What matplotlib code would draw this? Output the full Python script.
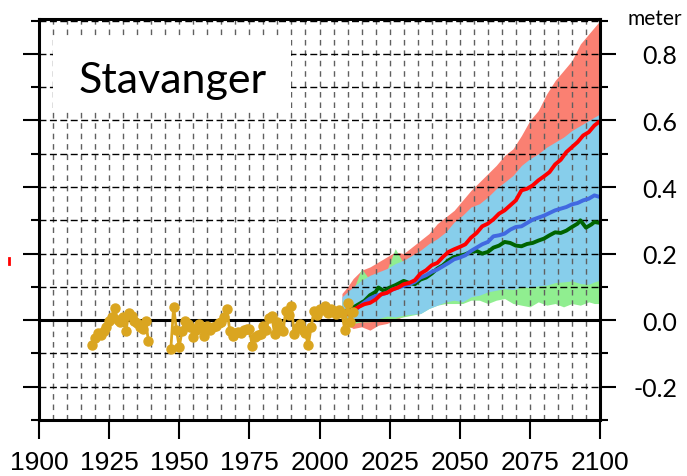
import numpy as np
import matplotlib
matplotlib.use("Agg")
import matplotlib.pyplot as plt
from matplotlib.ticker import MultipleLocator
from matplotlib.patches import Rectangle
from matplotlib.lines import Line2D
from matplotlib import font_manager

# === fonts ===
font_names = {f.name for f in font_manager.fontManager.ttflist}
has_narrow = "Liberation Sans Narrow" in font_names
narrow_font = "Liberation Sans Narrow" if has_narrow else "Liberation Sans"
xlabel_size = 24 if has_narrow else 19
round_font = "Lato"

# === observed sea level (m) ===
obs_early_years = list(range(1919, 1940))
obs_early = [-0.075, -0.055, -0.040, -0.045, -0.032, -0.020, -0.002, 0.010, 0.038, 0.000,
             -0.007, 0.011, -0.032, 0.021, 0.012, -0.002, -0.010, -0.020, -0.027, -0.002,
             -0.062]
obs_late_years = list(range(1947, 2013))
obs_late = [-0.087, 0.041, -0.030, -0.080, -0.032, -0.002, -0.012, -0.020, -0.052, -0.030,
            -0.012, -0.025, -0.047, -0.017, -0.030, -0.022, -0.017, -0.010, -0.005, 0.010,
            0.035, -0.032, -0.047, -0.040, -0.037, -0.038, -0.030, -0.027, -0.027, -0.077,
            -0.052, -0.045, -0.042, -0.017, -0.030, 0.008, 0.013, -0.042, -0.007, -0.020,
            -0.032, 0.028, 0.015, 0.043, -0.042, -0.025, -0.012, -0.030, -0.040, -0.075,
            -0.022, 0.028, 0.015, 0.033, 0.030, 0.043, 0.023, 0.035, 0.028, 0.018,
            0.030, 0.023, -0.030, 0.053, -0.005, 0.025]

# === projection ranges ===
band_years = [2008, 2010, 2012, 2015, 2018, 2021, 2024, 2027, 2030, 2033, 2036, 2039, 2042,
              2045, 2048, 2051, 2054, 2057, 2060, 2063, 2066, 2069, 2072, 2075, 2078, 2081,
              2084, 2087, 2090, 2093, 2096, 2098, 2100]
high_upper = [0.08, 0.10, 0.125, 0.15, 0.16, 0.175, 0.19, 0.205, 0.20, 0.22, 0.24, 0.26, 0.29,
              0.31, 0.33, 0.36, 0.39, 0.415, 0.44, 0.465, 0.495, 0.515, 0.555, 0.60, 0.63, 0.68,
              0.72, 0.75, 0.78, 0.83, 0.86, 0.88, 0.90]
high_lower = [-0.005, -0.015, -0.025, -0.02, -0.03, -0.015, -0.01, 0.0, 0.012, 0.02, 0.03, 0.05,
              0.06, 0.07, 0.08, 0.09, 0.10, 0.11, 0.12, 0.13, 0.14, 0.15, 0.16, 0.17, 0.18, 0.19,
              0.20, 0.21, 0.22, 0.23, 0.24, 0.25, 0.26]
low_upper = [0.06, 0.08, 0.09, 0.155, 0.12, 0.14, 0.15, 0.215, 0.17, 0.19, 0.20, 0.22, 0.23,
             0.24, 0.25, 0.26, 0.27, 0.28, 0.29, 0.30, 0.31, 0.32, 0.33, 0.34, 0.35, 0.36,
             0.37, 0.38, 0.39, 0.40, 0.41, 0.41, 0.42]
low_lower = [0.0, -0.005, -0.01, -0.005, -0.005, 0.0, 0.005, 0.005, 0.01, 0.015, 0.02, 0.035, 0.045,
             0.05, 0.05, 0.05, 0.06, 0.06, 0.05, 0.06, 0.065, 0.05, 0.045, 0.04, 0.055, 0.045,
             0.05, 0.04, 0.05, 0.045, 0.055, 0.05, 0.05]
mid_upper = [0.07, 0.085, 0.10, 0.12, 0.135, 0.145, 0.155, 0.17, 0.18, 0.195, 0.21, 0.23, 0.245,
             0.265, 0.295, 0.315, 0.34, 0.35, 0.37, 0.395, 0.415, 0.435, 0.465, 0.485, 0.50, 0.52,
             0.535, 0.55, 0.57, 0.585, 0.60, 0.61, 0.62]
mid_lower = [0.0, 0.0, -0.005, 0.0, 0.0, 0.005, 0.012, 0.01, 0.015, 0.018, 0.02, 0.035, 0.045,
             0.055, 0.06, 0.055, 0.07, 0.075, 0.085, 0.09, 0.095, 0.092, 0.10, 0.098, 0.103, 0.105,
             0.113, 0.115, 0.118, 0.11, 0.108, 0.115, 0.12]

# === projection medians ===
red_years = [2010, 2012, 2014, 2016, 2018, 2020, 2022, 2024, 2026, 2028, 2030, 2032, 2034, 2036,
             2038, 2040, 2042, 2044, 2046, 2048, 2050, 2052, 2054, 2056, 2058, 2060, 2062, 2064,
             2066, 2068, 2070, 2072, 2074, 2076, 2078, 2080, 2082, 2084, 2086, 2088, 2090, 2092,
             2094, 2096, 2098, 2100]
red_vals = [0.020, 0.030, 0.040, 0.048, 0.052, 0.062, 0.078, 0.082, 0.092, 0.098, 0.108, 0.112,
            0.120, 0.140, 0.150, 0.165, 0.172, 0.190, 0.205, 0.213, 0.220, 0.228, 0.248, 0.262,
            0.282, 0.290, 0.303, 0.320, 0.330, 0.345, 0.360, 0.390, 0.395, 0.405, 0.420, 0.432,
            0.445, 0.468, 0.482, 0.505, 0.520, 0.535, 0.555, 0.565, 0.585, 0.598]
blue_years = red_years
blue_vals = [0.020, 0.023, 0.040, 0.053, 0.065, 0.073, 0.077, 0.082, 0.092, 0.098, 0.103, 0.108,
             0.115, 0.128, 0.135, 0.145, 0.152, 0.162, 0.172, 0.183, 0.188, 0.195, 0.208, 0.218,
             0.228, 0.235, 0.252, 0.255, 0.260, 0.272, 0.280, 0.282, 0.292, 0.302, 0.308, 0.314,
             0.322, 0.330, 0.335, 0.340, 0.348, 0.352, 0.360, 0.365, 0.375, 0.370]
green_years = [2010, 2012, 2014, 2016, 2018, 2020, 2021, 2023, 2025, 2027, 2030, 2032, 2034, 2036,
               2038, 2040, 2042, 2044, 2046, 2048, 2050, 2052, 2054, 2056, 2058, 2060, 2062, 2064,
               2066, 2068, 2070, 2072, 2074, 2076, 2078, 2080, 2082, 2084, 2086, 2088, 2090, 2092,
               2093, 2095, 2097, 2098, 2100]
green_vals = [0.030, 0.038, 0.048, 0.058, 0.075, 0.085, 0.098, 0.088, 0.098, 0.105, 0.118, 0.112,
              0.108, 0.122, 0.128, 0.140, 0.155, 0.165, 0.180, 0.190, 0.193, 0.198, 0.205, 0.208,
              0.200, 0.205, 0.218, 0.224, 0.235, 0.232, 0.224, 0.222, 0.229, 0.232, 0.239, 0.245,
              0.255, 0.264, 0.262, 0.269, 0.280, 0.290, 0.300, 0.278, 0.288, 0.295, 0.292]

# === ticks and labels ===
xtick_vals = [1900, 1925, 1950, 1975, 2000, 2025, 2050, 2075, 2100]
xtick_labels = ["1900", "1925", "1950", "1975", "2000", "2025", "2050", "2075", "2100"]
ytick_vals = [-0.2, 0.0, 0.2, 0.4, 0.6, 0.8]
ytick_labels = ["-0.2", "0.0", "0.2", "0.4", "0.6", "0.8"]
station_name = "Stavanger"
unit_label = "meter"

fig = plt.figure(figsize=(6.87, 4.77), dpi=100)
ax = fig.add_axes([39 / 687, 56 / 477, 561 / 687, 401 / 477])
ax.set_xlim(1900, 2100)
ax.set_ylim(-0.3, 0.905)
ax.set_axisbelow("line")

ax.fill_between(band_years, high_lower, high_upper, color="#FA8072", lw=0, zorder=1)
ax.fill_between(band_years, low_lower, low_upper, color="#90EE90", lw=0, zorder=1)
ax.fill_between(band_years, mid_lower, mid_upper, color="#87CEEB", lw=0, zorder=1)

ax.axhline(0, color="black", lw=2.2, zorder=1.8)

ax.plot(green_years, green_vals, color="#006400", lw=2.8, zorder=2)
ax.plot(blue_years, blue_vals, color="#4169E1", lw=2.8, zorder=2.1)
ax.plot(red_years, red_vals, color="#FF0000", lw=2.8, zorder=2.2)

for yrs, vals in [(obs_early_years, obs_early), (obs_late_years, obs_late)]:
    ax.plot(yrs, vals, color="#DAA520", lw=2.0, marker="o", ms=6.5, mec="#DAA520", zorder=3)

# grid
ax.xaxis.set_minor_locator(MultipleLocator(5))
ax.yaxis.set_minor_locator(MultipleLocator(0.1))
ax.grid(True, which="both", axis="x", color="#606060", ls=(0, (4, 3.5)), lw=1.0)
ax.grid(True, which="both", axis="y", color="black", ls=(0, (5, 2.5)), lw=1.0)

# label box
ax.add_patch(Rectangle((1905, 0.625), 85, 0.225, facecolor="white", edgecolor="none", zorder=1.7))
ax.text(1947.5, 0.687, station_name, ha="center", va="baseline", fontsize=31,
        fontfamily=round_font, zorder=5)

ax.set_xticks(xtick_vals)
ax.set_xticklabels(xtick_labels, fontfamily=narrow_font, fontsize=xlabel_size)
ax.set_yticks(ytick_vals)
ax.set_yticklabels(ytick_labels, fontfamily=round_font, fontsize=18)
ax.tick_params(axis="x", which="major", direction="out", length=13.5, width=1.5, pad=8)
ax.tick_params(axis="x", which="minor", length=0)
ax.tick_params(axis="y", which="both", left=True, right=True, labelleft=False, labelright=True,
               direction="out", width=1.5)
ax.tick_params(axis="y", which="major", length=11.5, pad=44)
ax.tick_params(axis="y", which="minor", length=6)
for t in ax.yaxis.get_major_ticks():
    t.label2.set_horizontalalignment("right")

for s in ax.spines.values():
    s.set_linewidth(2.2)
    s.set_zorder(4)

fig.text(655 / 687, 1 - 25 / 477, unit_label, ha="center", va="baseline", fontsize=15,
         fontfamily=round_font)

# small red mark left of the frame
fig.add_artist(Line2D([9 / 687, 9 / 687], [1 - 259 / 477, 1 - 265 / 477], color="red", lw=2))

fig.savefig("out.png", dpi=100)
